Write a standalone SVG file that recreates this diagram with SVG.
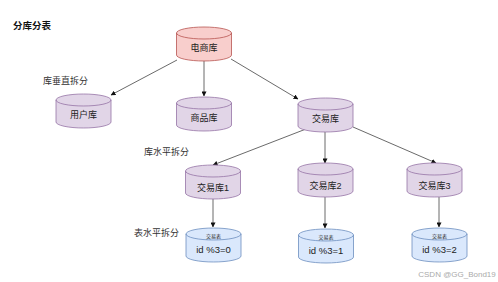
<svg xmlns="http://www.w3.org/2000/svg" xmlns:xlink="http://www.w3.org/1999/xlink" width="498" height="282" viewBox="0 0 498 282">
<style>
text{font-family:"Liberation Sans","Noto Sans CJK SC",sans-serif;fill:#222;text-anchor:middle}
.lbl{font-size:9px;fill:#333;text-anchor:start}
.pink{fill:#f8cecc;stroke:#b85450;stroke-width:0.8}
.purple{fill:#e1d5e7;stroke:#9673a6;stroke-width:0.8}
.blue{fill:#dae8fc;stroke:#6c8ebf;stroke-width:0.8}
.n{font-size:9px}
.edge{stroke:#444;stroke-width:0.8;fill:none;marker-end:url(#ah)}
</style>
<defs>
<marker id="ah" viewBox="0 0 6 6" refX="5.5" refY="3" markerWidth="5" markerHeight="5" orient="auto" markerUnits="userSpaceOnUse">
<path d="M0,0 L6,3 L0,6 z" fill="#111"/>
</marker>
<g id="cyl">
<path d="M0,6 a27.5,6 0 0 1 55,0 v22 a27.5,6 0 0 1 -55,0 z"/>
<path d="M0,6 a27.5,6 0 0 0 55,0" fill="none"/>
</g>
</defs>
<rect width="498" height="282" fill="#fff"/>
<text x="13" y="29" style="font-size:9.5px;font-weight:bold;text-anchor:start;fill:#111">分库分表</text>
<text class="lbl" x="43" y="84">库垂直拆分</text>
<text class="lbl" x="144" y="155">库水平拆分</text>
<text class="lbl" x="134" y="236">表水平拆分</text>
<g id="connectors">
<line class="edge" x1="177" y1="60" x2="111" y2="95"/>
<line class="edge" x1="204" y1="61" x2="204" y2="96"/>
<line class="edge" x1="231" y1="59" x2="298" y2="99"/>
<line class="edge" x1="306" y1="129" x2="213" y2="165"/>
<line class="edge" x1="325" y1="131" x2="325" y2="163"/>
<line class="edge" x1="353" y1="127" x2="436" y2="163"/>
<line class="edge" x1="213" y1="199" x2="213" y2="227"/>
<line class="edge" x1="325" y1="197" x2="325" y2="228"/>
<line class="edge" x1="439" y1="197" x2="439" y2="227"/>
</g>
<g id="n-dianshang"><use xlink:href="#cyl" class="pink" transform="translate(176.5,27)"/><text class="n" x="204" y="51">电商库</text></g>
<g id="n-yonghu"><use xlink:href="#cyl" class="purple" transform="translate(56,94)"/><text class="n" x="83.5" y="118">用户库</text></g>
<g id="n-shangpin"><use xlink:href="#cyl" class="purple" transform="translate(176.5,97)"/><text class="n" x="204" y="121">商品库</text></g>
<g id="n-jiaoyi"><use xlink:href="#cyl" class="purple" transform="translate(298,98)"/><text class="n" x="325.5" y="122">交易库</text></g>
<g id="n-jiaoyi1"><use xlink:href="#cyl" class="purple" transform="translate(185.5,165)"/><text class="n" x="213" y="191">交易库1</text></g>
<g id="n-jiaoyi2"><use xlink:href="#cyl" class="purple" transform="translate(298,163)"/><text class="n" x="325.5" y="189">交易库2</text></g>
<g id="n-jiaoyi3"><use xlink:href="#cyl" class="purple" transform="translate(407,163)"/><text class="n" x="434.5" y="189">交易库3</text></g>
<g id="n-table1"><use xlink:href="#cyl" class="blue" transform="translate(186,228)"/><text x="213.5" y="238" style="font-size:5px">交易表</text><text x="213.5" y="253" style="font-size:9.5px">id %3=0</text></g>
<g id="n-table2"><use xlink:href="#cyl" class="blue" transform="translate(298.5,229)"/><text x="326" y="239" style="font-size:5px">交易表</text><text x="326" y="254" style="font-size:9.5px">id %3=1</text></g>
<g id="n-table3"><use xlink:href="#cyl" class="blue" transform="translate(412,228)"/><text x="439.5" y="238" style="font-size:5px">交易表</text><text x="439.5" y="253" style="font-size:9.5px">id %3=2</text></g>
<text x="457" y="277" style="font-size:8px;fill:#aaa">CSDN @GG_Bond19</text>
</svg>
